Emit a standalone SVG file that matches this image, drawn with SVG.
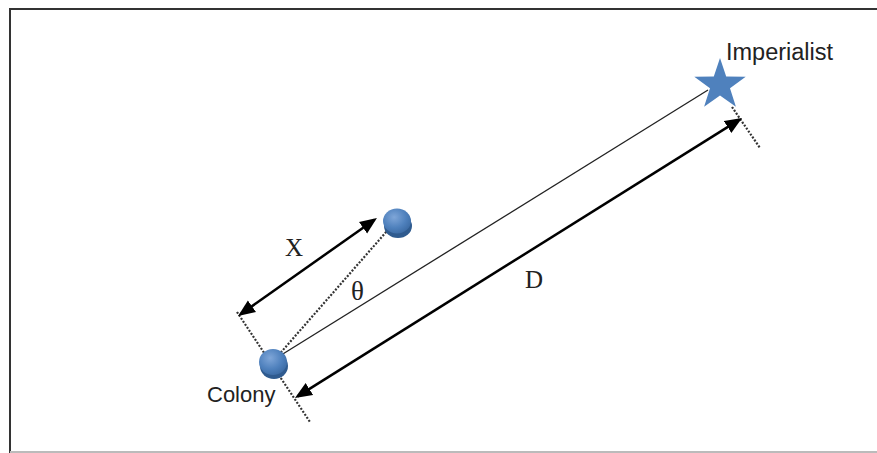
<svg xmlns="http://www.w3.org/2000/svg" width="877" height="453" viewBox="0 0 877 453">
<defs>
<marker id="ah" markerUnits="userSpaceOnUse" markerWidth="18" markerHeight="16" viewBox="0 0 18 16" refX="14" refY="8" orient="auto-start-reverse">
<path d="M0,1 L17,8 L0,15 z" fill="#000"/>
</marker>
<radialGradient id="ball" cx="0.4" cy="0.35" r="0.7">
<stop offset="0" stop-color="#7fa6d8"/>
<stop offset="0.6" stop-color="#4f81bd"/>
<stop offset="1" stop-color="#3b6aa3"/>
</radialGradient>
<style>
.frame{stroke:#333;stroke-width:2;fill:none}
.thin{stroke:#222;stroke-width:1.3;fill:none}
.dot{stroke:#333;stroke-width:2.2;stroke-dasharray:2 1.6;fill:none}
.arr{stroke:#000;stroke-width:2.5;fill:none;marker-start:url(#ah);marker-end:url(#ah)}
.sans{font-family:"Liberation Sans",Arial,sans-serif;font-size:22px;fill:#222}
.big{font-size:23.5px}
.serif{font-family:"Liberation Serif","Times New Roman",serif;font-size:25px;fill:#222}
.theta{font-size:27px}
.rim{fill:#2f5b8f}
.ball{fill:url(#ball)}
</style>
</defs>
<rect width="877" height="453" fill="#fff"/>
<path class="frame" d="M10,453 L10,9 L877,9"/>
<line x1="10" y1="452" x2="877" y2="452" stroke="#bbb" stroke-width="2"/>
<g id="connectors">
<line class="thin" x1="278" y1="357" x2="708" y2="90"/>
<line class="dot" x1="276" y1="358" x2="387" y2="231"/>
<line class="dot" x1="237" y1="312" x2="310" y2="422"/>
<line class="dot" x1="732" y1="107" x2="760" y2="148"/>
<line class="arr" x1="297.5" y1="396.4" x2="739.5" y2="119.6"/>
<line class="arr" x1="240.5" y1="314.3" x2="374.5" y2="219.7"/>
</g>
<g id="colony">
<ellipse class="rim" cx="274" cy="366" rx="14" ry="13"/>
<ellipse class="ball" cx="273" cy="362" rx="14" ry="13"/>
<text class="sans" x="207" y="402">Colony</text>
</g>
<g id="colony2">
<ellipse class="rim" cx="398" cy="226" rx="14" ry="12"/>
<ellipse class="ball" cx="397" cy="221" rx="14" ry="12.5"/>
</g>
<g id="imperialist">
<path d="M720,58 L726.2,76.5 L745.7,76.7 L730,88.2 L735.9,106.8 L720,95.5 L704.1,106.8 L710,88.2 L694.3,76.7 L713.8,76.5 Z" fill="#4f81bd"/>
<text class="sans big" x="726" y="60">Imperialist</text>
</g>
<g id="labels">
<text class="serif" x="285" y="256">X</text>
<text class="serif theta" x="351" y="300">θ</text>
<text class="serif" x="525" y="288">D</text>
</g>
</svg>
